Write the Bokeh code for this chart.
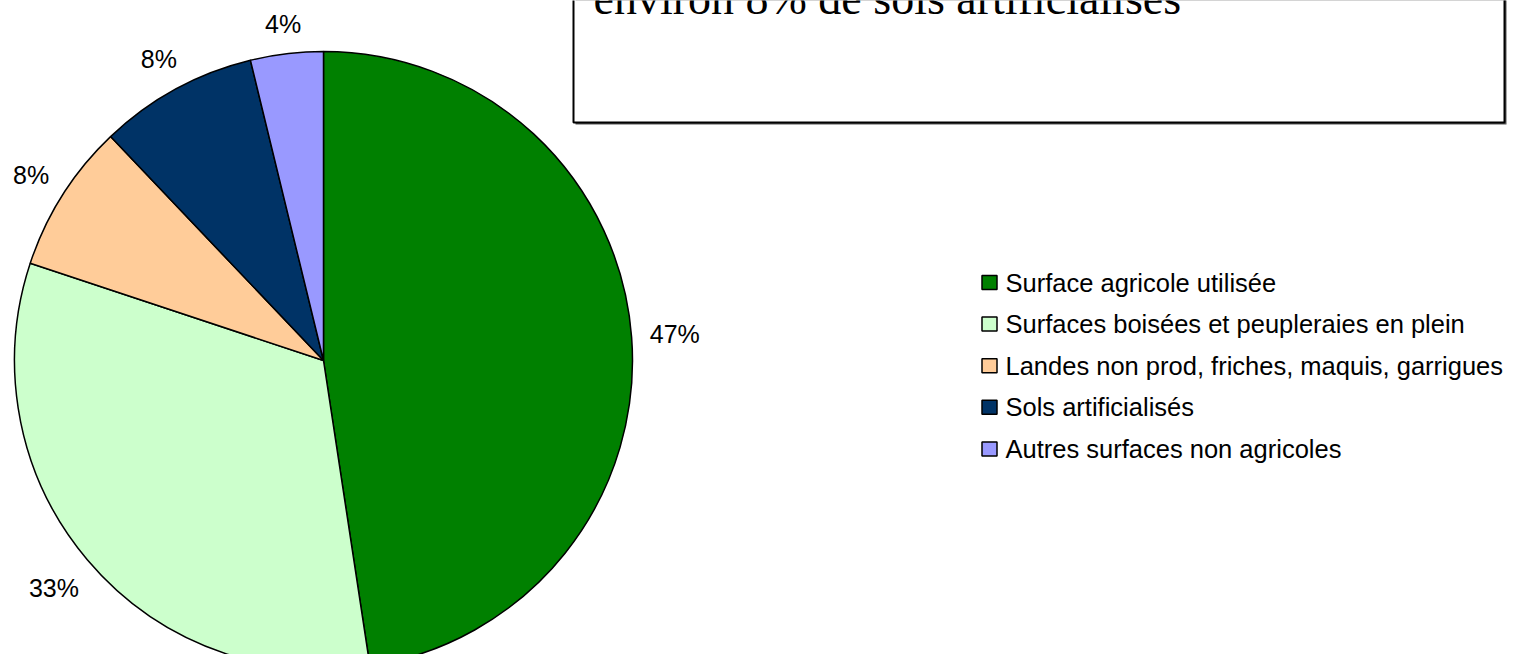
import numpy as np
from bokeh.plotting import figure
from bokeh.models import Range1d, ColumnDataSource
from bokeh.core.properties import value
from bokeh.embed import file_html
from bokeh.resources import INLINE

# ---- data ----
categories = [
    "Surface agricole utilisée",
    "Surfaces boisées et peupleraies en plein",
    "Landes non prod, friches, maquis, garrigues",
    "Sols artificialisés",
    "Autres surfaces non  agricoles",
]
shares = [47.6, 32.5, 7.8, 8.3, 3.8]
pct_labels = ["47%", "33%", "8%", "8%", "4%"]
colors = ["#008000", "#CCFFCC", "#FFCC99", "#003366", "#9999FF"]
title_text = "environ 8% de sols artificialisés"

# ---- layout (screen px from the picture's top-left) ----
W, H = 1508, 654

def sy(y):
    return H - y

p = figure(width=W, height=H, output_backend="svg", toolbar_location=None,
           x_range=Range1d(0, W), y_range=Range1d(0, H), min_border=0)
p.axis.visible = False
p.grid.visible = False
p.outline_line_color = None
p.background_fill_color = "white"
p.border_fill_color = "white"

# ---- pie ----
cx, cy, r = 323, 360, 309
vals = np.array(shares, dtype=float)
frac = vals / vals.sum()
cum = np.cumsum(frac)
start_frac = np.concatenate([[0.0], cum[:-1]])
end_frac = cum
start_ang = np.pi / 2 - end_frac * 2 * np.pi
end_ang = np.pi / 2 - start_frac * 2 * np.pi

src = ColumnDataSource(dict(start=start_ang, end=end_ang, color=colors))
p.wedge(x=cx, y=sy(cy), radius=r, start_angle="start", end_angle="end",
        direction="anticlock", fill_color="color", line_color="black",
        line_width=1.5, source=src)

# percentage labels outside the pie
mid = (start_ang + end_ang) / 2
gap, th = 17, 22
tw = np.array([len(s) * 17 for s in pct_labels], dtype=float)
dist = r + gap + tw / 2 * np.abs(np.cos(mid)) + th / 2 * np.abs(np.sin(mid))
lx = cx + dist * np.cos(mid)
ly = sy(cy) + dist * np.sin(mid)
p.text(x=lx, y=ly, text=pct_labels, text_align="center", text_baseline="middle",
       text_font=value("Liberation Sans"), text_font_size="25px", text_color="black")

# ---- legend ----
lg_x, lg_y0, lg_dy = 989, 282, 41.6
ys = [sy(lg_y0 + i * lg_dy) for i in range(len(categories))]
p.rect(x=[lg_x] * len(categories), y=ys, width=15, height=14,
       fill_color=colors, line_color="black", line_width=1.5)
p.text(x=[1005] * len(categories), y=ys, text=categories, text_align="left",
       text_baseline="middle", text_font=value("Liberation Sans"),
       text_font_size="25.5px", text_color="black")

# ---- text box (cut off at top) ----
bx0, bx1, by1 = 573, 1504, 122
p.quad(left=bx0 + 2, right=bx1 + 2, top=sy(-20), bottom=sy(by1 + 2),
       fill_color="#555555", line_color=None)
p.quad(left=bx0, right=bx1, top=sy(-20), bottom=sy(by1),
       fill_color="white", line_color="black", line_width=2)
p.text(x=[593], y=[sy(-2)], text=[title_text], text_align="left",
       text_baseline="alphabetic", text_font=value("Liberation Serif"),
       text_font_size="46px", text_color="black")

open("out.html", "w").write(file_html(p, INLINE))
